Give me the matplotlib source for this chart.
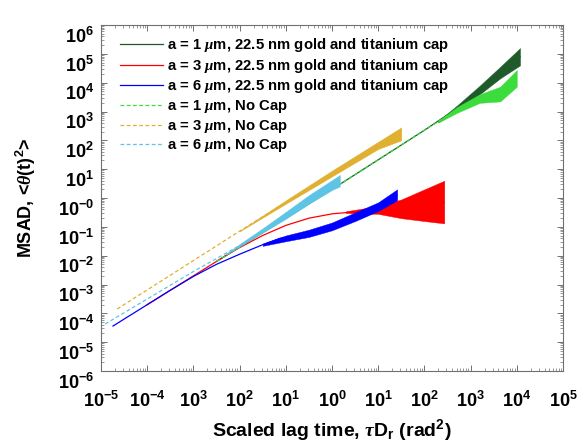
import numpy as np
import matplotlib
matplotlib.use('Agg')
import matplotlib.pyplot as plt
import matplotlib.transforms as mtransforms
from matplotlib.ticker import FixedLocator, FixedFormatter, LogLocator, NullFormatter

plt.rcParams['font.family'] = ['Liberation Sans', 'DejaVu Sans']
plt.rcParams['font.weight'] = 'bold'
plt.rcParams['mathtext.fontset'] = 'custom'
plt.rcParams['mathtext.rm'] = 'Liberation Sans:bold'
plt.rcParams['mathtext.bf'] = 'Liberation Sans:bold'
plt.rcParams['mathtext.it'] = 'Liberation Serif:italic'
plt.rcParams['mathtext.default'] = 'bf'

# ---------------- data (log10 of tau*Dr and of MSAD) ----------------
# a = 1 um, capped (dark green)
g1_x = [-2.5, 0.0, 2.0, 2.7, 3.2, 3.64, 4.07]
g1_y = [-2.2, 0.3, 2.35, 3.1, 3.75, 4.35, 4.9]
g1_nx = [2.3, 2.7, 3.2, 3.64, 4.07]
g1_lo = [2.62, 3.0, 3.6, 4.15, 4.6]
g1_hi = [2.68, 3.2, 3.9, 4.55, 5.2]

# a = 3 um, capped (red)
r3_x = [-4.0, -2.3, -2.0, -1.5, -1.0, -0.5, 0.0, 0.5, 1.0, 1.5, 2.0, 2.43]
r3_y = [-3.7, -2.0, -1.72, -1.3, -0.95, -0.7, -0.55, -0.48, -0.42, -0.35, -0.25, -0.15]
r3_nx = [0.3, 1.0, 1.5, 2.0, 2.43]
r3_lo = [-0.52, -0.55, -0.7, -0.8, -0.88]
r3_hi = [-0.46, -0.28, -0.05, 0.3, 0.6]

# a = 6 um, capped (blue)
b6_x = [-4.74, -3.5, -3.0, -2.5, -2.0, -1.5, -1.13, -0.5, 0.0, 0.5, 1.0, 1.41]
b6_y = [-4.44, -3.2, -2.72, -2.3, -1.95, -1.62, -1.4, -1.22, -0.98, -0.65, -0.3, 0.1]
b6_nx = [-1.5, -1.0, -0.5, 0.0, 0.5, 1.0, 1.41]
b6_lo = [-1.66, -1.5, -1.35, -1.12, -0.8, -0.45, -0.08]
b6_hi = [-1.58, -1.3, -1.1, -0.85, -0.5, -0.15, 0.3]

# a = 1 um, no cap (light green, dashed)
n1_x = [-2.5, 0.0, 2.0, 2.7, 3.2, 3.64, 4.0]
n1_y = [-2.2, 0.3, 2.35, 3.05, 3.45, 3.62, 4.15]
n1_nx = [2.3, 2.7, 3.2, 3.64, 4.0]
n1_lo = [2.62, 2.95, 3.3, 3.35, 3.86]
n1_hi = [2.68, 3.15, 3.6, 3.86, 4.44]

# a = 3 um, no cap (orange, dashed)
n3_x = [-4.65, -2.0, 0.0, 1.5]
n3_y = [-3.85, -1.15, 0.85, 2.25]
n3_nx = [-2.0, -1.0, 0.0, 1.0, 1.5]
n3_lo = [-1.16, -0.2, 0.75, 1.7, 2.0]
n3_hi = [-1.14, -0.08, 0.95, 1.95, 2.45]

# a = 6 um, no cap (cyan, dashed)
n6_x = [-4.91, -3.0, -2.0, -1.0, 0.0, 0.17]
n6_y = [-4.37, -2.55, -1.65, -0.6, 0.45, 0.6]
n6_nx = [-2.3, -1.5, -1.0, -0.5, 0.0, 0.17]
n6_lo = [-1.97, -1.2, -0.72, -0.2, 0.28, 0.4]
n6_hi = [-1.93, -1.05, -0.48, 0.1, 0.62, 0.8]

labels = [r'a = 1 $\mathit{\mu}$m, 22.5 nm gold and titanium cap',
          r'a = 3 $\mathit{\mu}$m, 22.5 nm gold and titanium cap',
          r'a = 6 $\mathit{\mu}$m, 22.5 nm gold and titanium cap',
          r'a = 1 $\mathit{\mu}$m, No Cap',
          r'a = 3 $\mathit{\mu}$m, No Cap',
          r'a = 6 $\mathit{\mu}$m, No Cap']

x_ticks_exp = [-5, -4, -3, -2, -1, 0, 1, 2, 3, 4, 5]
x_tick_labels = ['10$^{-5}$', '10$^{-4}$', '10$^{3}$', '10$^{2}$', '10$^{1}$', '10$^{0}$',
                 '10$^{1}$', '10$^{2}$', '10$^{3}$', '10$^{4}$', '10$^{5}$']
y_ticks_exp = [-6, -5, -4, -3, -2, -1, 0, 1, 2, 3, 4, 5, 6]
y_tick_labels = ['10$^{-6}$', '10$^{-5}$', '10$^{-4}$', '10$^{-3}$', '10$^{-2}$', '10$^{-1}$',
                 '10$^{-0}$', '10$^{1}$', '10$^{2}$', '10$^{3}$', '10$^{4}$', '10$^{5}$', '10$^{6}$']

colors = ['#1f5a2a', '#ff0000', '#0000ff', '#3ddc3d', '#e0b030', '#5ec4e6']

P = lambda v: np.power(10.0, np.asarray(v, dtype=float))

fig = plt.figure(figsize=(5.81, 4.45), dpi=100)
ax = fig.add_axes([101/581, 1 - 371/445, 462/581, 346/445])

series = [(g1_x, g1_y, g1_nx, g1_lo, g1_hi, '-'),
          (r3_x, r3_y, r3_nx, r3_lo, r3_hi, '-'),
          (b6_x, b6_y, b6_nx, b6_lo, b6_hi, '-'),
          (n1_x, n1_y, n1_nx, n1_lo, n1_hi, '--'),
          (n3_x, n3_y, n3_nx, n3_lo, n3_hi, '--'),
          (n6_x, n6_y, n6_nx, n6_lo, n6_hi, '--')]

for i, (sx, sy, nx, lo, hi, ls) in enumerate(series):
    kw = dict(dashes=(3, 2)) if ls == '--' else {}
    ax.plot(P(sx), P(sy), color=colors[i], lw=0.9, label=labels[i], zorder=2 + i, **kw)
    ax.fill_between(P(nx), P(lo), P(hi), color=colors[i], lw=0.3, zorder=2 + i)

ax.set_xscale('log')
ax.set_yscale('log')
ax.set_xlim(1e-5, 1e5)
ax.set_ylim(1e-6, 1e6)

ax.xaxis.set_major_locator(FixedLocator(P(x_ticks_exp)))
ax.xaxis.set_major_formatter(FixedFormatter(x_tick_labels))
ax.yaxis.set_major_locator(FixedLocator(P(y_ticks_exp)))
ax.yaxis.set_major_formatter(FixedFormatter(y_tick_labels))
ax.xaxis.set_minor_locator(LogLocator(base=10, subs=np.arange(2, 10), numticks=100))
ax.yaxis.set_minor_locator(LogLocator(base=10, subs=np.arange(2, 10), numticks=100))
ax.xaxis.set_minor_formatter(NullFormatter())
ax.yaxis.set_minor_formatter(NullFormatter())

for s in ax.spines.values():
    s.set_color('#707070')
    s.set_linewidth(0.8)
ax.tick_params(which='both', direction='in', top=True, right=True, color='#707070')
ax.tick_params(which='major', length=4, width=0.7, labelsize=13)
ax.tick_params(axis='x', which='major', pad=14)
ax.tick_params(axis='y', which='major', pad=5)
ax.tick_params(which='minor', length=2, width=0.5)

ax.set_xlabel(r'Scaled lag time, $\mathit{\tau}$D$_{r}$ (rad$^{2}$)', fontsize=14, fontweight='bold', labelpad=5)
ax.set_ylabel(r'MSAD, <$\mathit{\theta}$(t)$^{2}$>', fontsize=13, fontweight='bold', labelpad=14)

leg = ax.legend(loc='upper left', bbox_to_anchor=(0.041, 0.968), frameon=False, fontsize=10.7,
                handlelength=2.9, handletextpad=0.3, labelspacing=0.18, borderaxespad=0, borderpad=0)
for t in leg.get_texts():
    t.set_fontweight('bold')

fig.canvas.draw()
shift = mtransforms.ScaledTranslation(0, -7 / 72, fig.dpi_scale_trans)
for tk in ax.yaxis.get_major_ticks():
    tk.label1.set_transform(tk.label1.get_transform() + shift)

fig.savefig('out.png', dpi=100)
